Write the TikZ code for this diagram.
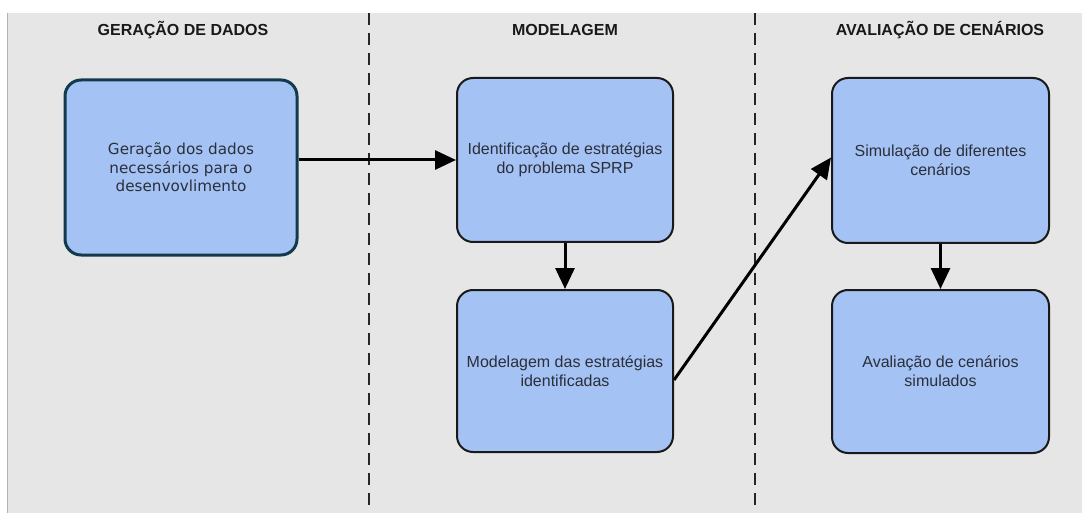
\documentclass[tikz,border=0pt]{standalone}
\usepackage{fontspec}
\setmainfont{Liberation Sans}
\newfontfamily\verd{DejaVu Sans}
\usetikzlibrary{arrows.meta}
\definecolor{bg}{HTML}{E6E6E6}
\definecolor{boxfill}{HTML}{A4C2F4}
\definecolor{tealborder}{HTML}{123A4C}
\definecolor{txt}{HTML}{2B2F3A}
\tikzset{
  header/.style={font=\fontsize{16}{19}\selectfont\bfseries, text=black!90, anchor=center},
  stagebox/.style={draw=black!90, line width=2pt, fill=boxfill, rounded corners=16pt, align=center, text=txt,
     font=\fontsize{16}{19}\selectfont, inner sep=0pt},
  flow/.style={line width=3pt, -{Triangle[length=21pt,width=19pt]}},
  divider/.style={line width=2pt, black!85, dash pattern=on 12pt off 8pt}
}
\begin{document}
\begin{tikzpicture}[x=1pt,y=-1pt]
\useasboundingbox (0,0) rectangle (1087,513);
\fill[white] (0,0) rectangle (1087,513);
\fill[bg] (7,13) rectangle (1082,513);
\draw[black!30, line width=1.5pt] (7.5,13) -- (7.5,513);
% dividers
\coordinate (d1t) at (369,13); \coordinate (d1b) at (369,513);
\coordinate (d2t) at (755,13); \coordinate (d2b) at (755,513);
\draw[divider] (d1t) -- (d1b);
\draw[divider] (d2t) -- (d2b);
% headers
\node[header] (h1) at (183,30) {GERAÇÃO DE DADOS};
\node[header] (h2) at (565,30) {MODELAGEM};
\node[header] (h3) at (940,30) {AVALIAÇÃO DE CENÁRIOS};
% boxes
\node[stagebox, draw=tealborder, line width=3pt, minimum width=232pt, minimum height=175pt,
  font=\verd\fontsize{15.2}{18.5}\selectfont] (b1) at (181,167.5)
  {Geração dos dados\\necessários para o\\desenvovlimento};
\node[stagebox, minimum width=216pt, minimum height=164pt] (b2) at (565,160)
  {Identificação de estratégias\\do problema SPRP};
\node[stagebox, minimum width=216pt, minimum height=162pt] (b3) at (565,371)
  {Modelagem das estratégias\\identificadas};
\node[stagebox, minimum width=217pt, minimum height=165pt] (b4) at (940.5,160.5)
  {Simulação de diferentes\\cenários};
\node[stagebox, minimum width=217pt, minimum height=163pt] (b5) at (940.5,371.5)
  {Avaliação de cenários\\simulados};
% arrows
\draw[flow] (b1.east |- b2.west) -- (b2.west);
\draw[flow] (b2.south) -- (b3.north);
\draw[flow] ([yshift=-9pt]b3.east) -- ([yshift=3pt]b4.west);
\draw[flow] (b4.south) -- (b5.north);
\end{tikzpicture}
\end{document}
